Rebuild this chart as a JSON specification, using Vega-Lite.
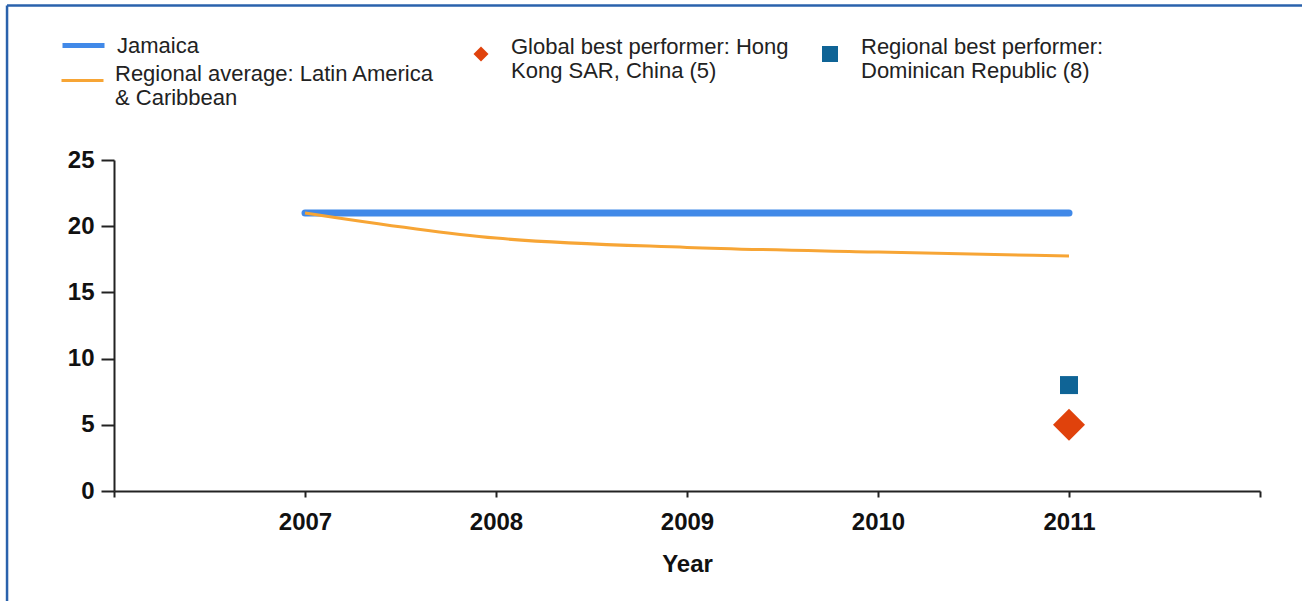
{
  "$schema": "https://vega.github.io/schema/vega-lite/v6.json",
  "width": 1146,
  "height": 331,
  "autosize": {"type": "none"},
  "padding": {"left": 114, "top": 160, "right": 42, "bottom": 110},
  "background": "white",
  "title": {
    "text": "Time to export (days)",
    "anchor": "start",
    "frame": "group",
    "dx": -107,
    "offset": 20,
    "baseline": "alphabetic",
    "font": "Liberation Sans",
    "fontSize": 26,
    "fontWeight": "bold",
    "color": "#000000"
  },
  "config": {
    "view": {"stroke": null},
    "font": "Liberation Sans",
    "legend": {
      "orient": "none",
      "title": null,
      "labelFont": "Liberation Sans",
      "labelFontSize": 22,
      "labelColor": "#222222",
      "labelLimit": 600
    }
  },
  "data": {
    "values": [
      {"series": "Jamaica", "year": 2007, "value": 21},
      {"series": "Jamaica", "year": 2008, "value": 21},
      {"series": "Jamaica", "year": 2009, "value": 21},
      {"series": "Jamaica", "year": 2010, "value": 21},
      {"series": "Jamaica", "year": 2011, "value": 21},
      {"series": "Regional average: Latin America & Caribbean", "year": 2007, "value": 21},
      {"series": "Regional average: Latin America & Caribbean", "year": 2008, "value": 19.1},
      {"series": "Regional average: Latin America & Caribbean", "year": 2009, "value": 18.4},
      {"series": "Regional average: Latin America & Caribbean", "year": 2010, "value": 18.05},
      {"series": "Regional average: Latin America & Caribbean", "year": 2011, "value": 17.75},
      {"series": "Global best performer: Hong Kong SAR, China (5)", "year": 2011, "value": 5},
      {"series": "Regional best performer: Dominican Republic (8)", "year": 2011, "value": 8}
    ]
  },
  "encoding": {
    "x": {
      "field": "year",
      "type": "quantitative",
      "scale": {"domain": [2006, 2012], "nice": false, "zero": false},
      "axis": {
        "values": [2006, 2007, 2008, 2009, 2010, 2011, 2012],
        "format": "d",
        "labelExpr": "datum.value == 2006 || datum.value == 2012 ? '' : datum.label",
        "title": "Year",
        "grid": false,
        "tickSize": 6,
        "domainColor": "#222222",
        "tickColor": "#222222",
        "domainWidth": 2,
        "tickWidth": 2,
        "labelFont": "Liberation Sans",
        "labelFontWeight": "bold",
        "labelFontSize": 24,
        "labelColor": "#111111",
        "labelPadding": 13,
        "titleFont": "Liberation Sans",
        "titleFontWeight": "bold",
        "titleFontSize": 24,
        "titleColor": "#111111",
        "titlePadding": 18
      }
    },
    "y": {
      "field": "value",
      "type": "quantitative",
      "scale": {"domain": [0, 25], "nice": false, "zero": true},
      "axis": {
        "values": [0, 5, 10, 15, 20, 25],
        "title": null,
        "grid": false,
        "tickSize": 13,
        "domainColor": "#222222",
        "tickColor": "#222222",
        "domainWidth": 2,
        "tickWidth": 2,
        "labelFont": "Liberation Sans",
        "labelFontWeight": "bold",
        "labelFontSize": 24,
        "labelColor": "#111111",
        "labelPadding": 7
      }
    }
  },
  "layer": [
    {
      "transform": [{"filter": "datum.series == 'Jamaica'"}],
      "mark": {"type": "line", "strokeWidth": 7, "strokeCap": "round"},
      "encoding": {
        "color": {
          "field": "series",
          "type": "nominal",
          "scale": {"domain": ["Jamaica"], "range": ["#4189e8"]},
          "legend": {
            "legendX": -54,
            "legendY": -138,
            "symbolType": "stroke",
            "symbolSize": 1764,
            "symbolStrokeWidth": 5,
            "labelOffset": 10,
            "labelBaseline": "middle"
          }
        }
      }
    },
    {
      "transform": [{"filter": "indexof(datum.series, 'Regional average') == 0"}],
      "mark": {"type": "line", "strokeWidth": 3, "interpolate": "monotone"},
      "encoding": {
        "stroke": {
          "field": "series",
          "type": "nominal",
          "scale": {"domain": ["Regional average: Latin America & Caribbean"], "range": ["#f7a535"]},
          "legend": {
            "legendX": -54,
            "legendY": -102,
            "symbolType": "stroke",
            "symbolSize": 1764,
            "symbolStrokeWidth": 3,
            "labelOffset": 10,
            "labelBaseline": "alphabetic",
            "labelExpr": "['Regional average: Latin America', '& Caribbean']"
          }
        }
      }
    },
    {
      "transform": [{"filter": "indexof(datum.series, 'Global') == 0"}],
      "mark": {"type": "point", "shape": "diamond", "filled": true, "size": 1024, "opacity": 1},
      "encoding": {
        "fill": {
          "field": "series",
          "type": "nominal",
          "scale": {"domain": ["Global best performer: Hong Kong SAR, China (5)"], "range": ["#e0420c"]},
          "legend": {
            "legendX": 356,
            "legendY": -117,
            "symbolType": "diamond",
            "symbolSize": 225,
            "symbolStrokeWidth": 0,
            "symbolOpacity": 1,
            "labelOffset": 19,
            "labelBaseline": "alphabetic",
            "labelExpr": "['Global best performer: Hong', 'Kong SAR, China (5)']"
          }
        }
      }
    },
    {
      "transform": [{"filter": "indexof(datum.series, 'Regional best') == 0"}],
      "mark": {"type": "point", "shape": "square", "filled": true, "size": 324, "opacity": 1, "color": "#0f6496"},
      "encoding": {
        "shape": {
          "field": "series",
          "type": "nominal",
          "scale": {"domain": ["Regional best performer: Dominican Republic (8)"], "range": ["square"]},
          "legend": {
            "legendX": 705,
            "legendY": -117,
            "symbolType": "square",
            "symbolSize": 256,
            "symbolFillColor": "#0f6496",
            "symbolStrokeColor": "#0f6496",
            "symbolStrokeWidth": 0,
            "symbolOpacity": 1,
            "labelOffset": 20,
            "labelBaseline": "alphabetic",
            "labelExpr": "['Regional best performer:', 'Dominican Republic (8)']"
          }
        }
      }
    },
    {
      "transform": [{"filter": "datum.series == 'Jamaica' && datum.year == 2007"}],
      "mark": {"type": "rule", "stroke": "#2a62ac", "strokeWidth": 2.5, "clip": false},
      "encoding": {
        "x": {"datum": 2005.44, "type": "quantitative"},
        "y": {"datum": 36.67, "type": "quantitative"},
        "y2": {"datum": -12}
      }
    },
    {
      "transform": [{"filter": "datum.series == 'Jamaica' && datum.year == 2007"}],
      "mark": {"type": "rule", "stroke": "#2a62ac", "strokeWidth": 2.5, "clip": false},
      "encoding": {
        "x": {"datum": 2005.44, "type": "quantitative"},
        "x2": {"datum": 2013},
        "y": {"datum": 36.67, "type": "quantitative"}
      }
    }
  ]
}
